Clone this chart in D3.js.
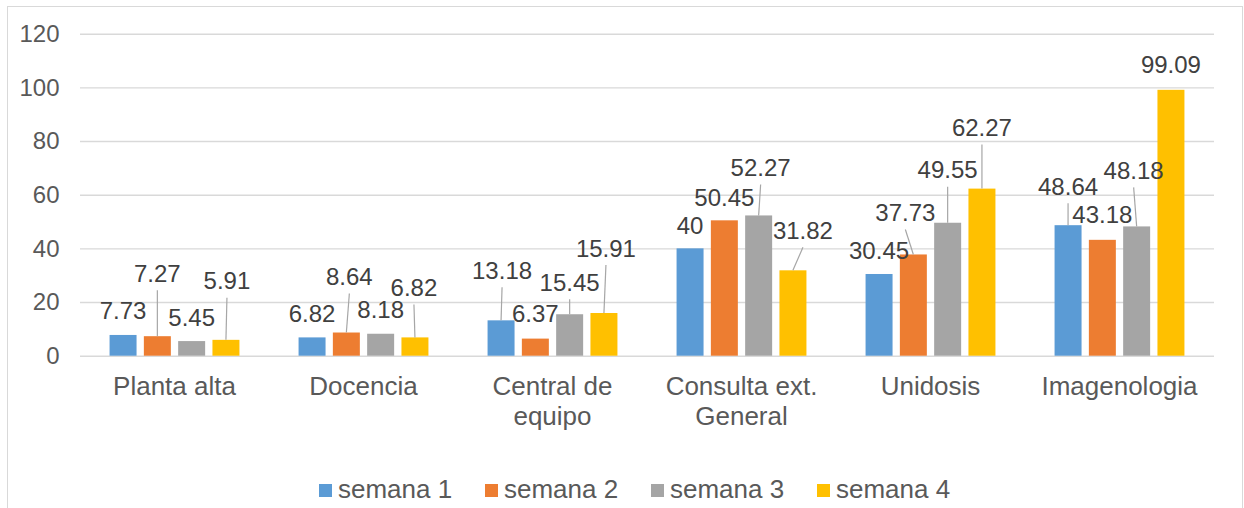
<!DOCTYPE html>
<html>
<head>
<meta charset="utf-8">
<script src="https://cdn.jsdelivr.net/npm/d3@7"></script>
<style>
  html, body { margin: 0; padding: 0; background: #ffffff; }
  svg { display: block; font-family: "Liberation Sans", Arial, sans-serif; }
</style>
</head>
<body>
<svg id="chart" width="1244" height="508"></svg>
<script>
// ---- data ----
const categories = ["Planta alta", "Docencia", "Central de equipo", "Consulta ext. General", "Unidosis", "Imagenologia"];
const seriesNames = ["semana 1", "semana 2", "semana 3", "semana 4"];
const semana1 = [7.73, 6.82, 13.18, 40, 30.45, 48.64];
const semana2 = [7.27, 8.64, 6.37, 50.45, 37.73, 43.18];
const semana3 = [5.45, 8.18, 15.45, 52.27, 49.55, 48.18];
const semana4 = [5.91, 6.82, 15.91, 31.82, 62.27, 99.09];
const yTicks = [0, 20, 40, 60, 80, 100, 120];

// ---- styling / layout (not data) ----
const colors = ["#5b9bd5", "#ed7d31", "#a5a5a5", "#ffc000"];
// label displacement (px) from default bar-top position, per series x category
const labelOffsets = [
  [[0,-25],[0,-24],[1,-50],[0,-23],[0,-24],[0,-39]],
  [[0,-63],[3,-56],[0,-25],[0,-23],[-8,-42],[0,-25]],
  [[0,-24],[0,-24],[0,-32],[2,-48],[0,-53],[-3,-56]],
  [[1,-59],[-1,-50],[2,-65],[10,-40],[0,-61],[0,-25]]
];

const values = [semana1, semana2, semana3, semana4];
const svg = d3.select("#chart");

// chart border
svg.append("rect")
  .attr("x", 7.5).attr("y", 6.5).attr("width", 1235).attr("height", 540)
  .attr("fill", "none").attr("stroke", "#d9d9d9").attr("stroke-width", 1);

const plot = { left: 80, right: 1214, top: 33.7, bottom: 355.7 };

const x0 = d3.scaleBand().domain(categories).range([plot.left, plot.right]).padding(0);
const x1 = d3.scaleBand().domain(seriesNames).range([0, x0.bandwidth()])
  .paddingInner(0.213).paddingOuter(0.862);
const y = d3.scaleLinear().domain([0, 120]).range([plot.bottom, plot.top]);

// y axis with gridlines
const yAxis = d3.axisLeft(y).tickValues(yTicks)
  .tickSize(-(plot.right - plot.left)).tickPadding(20.5)
  .tickFormat(d3.format("d"));
const gy = svg.append("g").attr("transform", `translate(${plot.left},0)`).call(yAxis);
gy.select(".domain").remove();
gy.selectAll(".tick line").attr("stroke", "#d9d9d9").attr("stroke-width", 1.4);
gy.selectAll(".tick text").attr("fill", "#595959").attr("font-size", 24)
  .attr("font-family", "Liberation Sans, Arial, sans-serif");

// bars
const flat = [];
seriesNames.forEach((s, j) => {
  categories.forEach((c, i) => {
    flat.push({ s, j, c, i, v: values[j][i] });
  });
});

svg.append("g").selectAll("rect").data(flat).join("rect")
  .attr("x", d => x0(d.c) + x1(d.s))
  .attr("y", d => y(d.v))
  .attr("width", x1.bandwidth())
  .attr("height", d => y(0) - y(d.v))
  .attr("fill", d => colors[d.j]);

// data labels + leader lines
const lbl = flat.map(d => {
  const cx = x0(d.c) + x1(d.s) + x1.bandwidth() / 2;
  const top = y(d.v);
  const off = labelOffsets[d.j][d.i];
  return { ...d, cx, top, lx: cx + off[0], ly: top + off[1], lead: off[1] < -28 };
});

svg.append("g").selectAll("line").data(lbl.filter(d => d.lead)).join("line")
  .attr("x1", d => d.lx).attr("y1", d => d.ly + 17)
  .attr("x2", d => d.cx).attr("y2", d => d.top)
  .attr("stroke", "#a6a6a6").attr("stroke-width", 1.2);

svg.append("g").selectAll("text").data(lbl).join("text")
  .attr("x", d => d.lx).attr("y", d => d.ly + 8.6)
  .attr("text-anchor", "middle")
  .attr("font-size", 24).attr("fill", "#404040")
  .text(d => String(d.v));

// category labels (wrapped)
const gx = svg.append("g");
categories.forEach(c => {
  const t = gx.append("text")
    .attr("x", x0(c) + x0.bandwidth() / 2).attr("y", 395)
    .attr("text-anchor", "middle").attr("font-size", 26).attr("fill", "#595959");
  const words = c.split(" ");
  let line = [];
  let lineNo = 0;
  let tspan = t.append("tspan").attr("x", x0(c) + x0.bandwidth() / 2).attr("dy", 0);
  words.forEach(w => {
    line.push(w);
    tspan.text(line.join(" "));
    if (tspan.node().getComputedTextLength() > x0.bandwidth() - 10 && line.length > 1) {
      line.pop();
      tspan.text(line.join(" "));
      line = [w];
      lineNo++;
      tspan = t.append("tspan").attr("x", x0(c) + x0.bandwidth() / 2).attr("dy", 30).text(w);
    }
  });
});

// legend
const legendX = d3.scaleBand().domain(seriesNames).range([319, 319 + 4 * 166]);
const lg = svg.append("g").selectAll("g").data(seriesNames).join("g")
  .attr("transform", d => `translate(${legendX(d)},0)`);
lg.append("rect").attr("x", 0).attr("y", 484).attr("width", 13).attr("height", 13)
  .attr("fill", (d, j) => colors[j]);
lg.append("text").attr("x", 19).attr("y", 497.5)
  .attr("font-size", 26).attr("fill", "#595959").text(d => d);
</script>
</body>
</html>
